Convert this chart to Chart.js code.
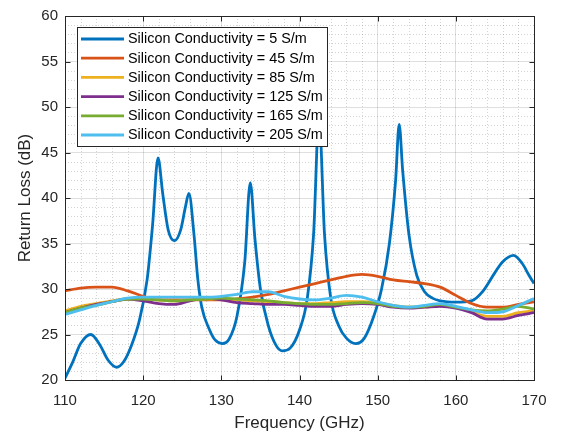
<!DOCTYPE html>
<html>
<head>
<meta charset="utf-8">
<script src="https://cdn.jsdelivr.net/npm/chart.js@4.4.0/dist/chart.umd.min.js"></script>
<style>
  html, body { margin: 0; padding: 0; background: #ffffff; }
  #wrap { width: 561px; height: 434px; }
</style>
</head>
<body>
<div id="wrap"><canvas id="c" width="561" height="434"></canvas></div>
<script>
// ---- data ----
const seriesLabels = [
  'Silicon Conductivity = 5 S/m',
  'Silicon Conductivity = 45 S/m',
  'Silicon Conductivity = 85 S/m',
  'Silicon Conductivity = 125 S/m',
  'Silicon Conductivity = 165 S/m',
  'Silicon Conductivity = 205 S/m'
];
const seriesColors = ['#0072BD', '#D95319', '#EDB120', '#7E2F8E', '#77AC30', '#4DBEEE'];

const freq5 = [110, 111, 112, 113.3, 114.5, 115.5, 116.6, 117.5, 118.5, 119.5, 120.5, 121.2, 121.9, 122.5, 123.2, 124,
  124.8, 125.4, 125.85, 126.5, 127, 127.5, 128.5, 129.2, 130.1, 131, 132, 133, 133.7, 134.3, 135, 136, 137, 137.8,
  138.8, 140, 141, 141.8, 142.5, 143.2, 144, 145, 146, 147.2, 148.3, 149.5, 150.5, 151.5, 152.3, 152.75, 153.2,
  154, 155, 156, 157, 158, 160, 162, 163.5, 165, 166, 167.4, 168.5, 169.3, 170];
const rl5 = [20.2, 22.0, 24.0, 25.0, 23.8, 22.2, 21.4, 22.0, 23.8, 26.5, 31, 37, 44.4, 40.5, 36.5, 35.3,
  36.5, 39.0, 40.5, 36, 31, 28, 25.5, 24.4, 24.0, 24.5, 27, 33, 41.7, 35.5, 30, 26, 23.8, 23.2,
  23.5, 25.5, 29, 36, 49, 36, 29, 26, 24.6, 24.0, 24.6, 27, 30, 35, 42, 48.1, 43,
  36, 31.5, 29.7, 29.0, 28.7, 28.55, 28.7, 29.8, 31.8, 33.0, 33.7, 32.8, 31.6, 30.6];

const freqSmooth = [110, 112, 114, 116, 118, 120, 122, 124, 126, 128, 130, 132, 134, 136, 138, 140,
  142, 144, 146, 148, 150, 152, 154, 156, 158, 160, 162, 164, 166, 168, 170];
const rl45  = [29.8, 30.1, 30.2, 30.2, 29.8, 29.2, 28.8, 28.8, 28.8, 28.8, 28.8, 28.9, 29.1, 29.4, 29.8, 30.2,
  30.6, 31.0, 31.4, 31.6, 31.4, 31.0, 30.8, 30.6, 30.2, 29.3, 28.4, 28.0, 28.0, 28.3, 28.6];
const rl85  = [27.6, 28.1, 28.4, 28.7, 28.9, 28.9, 28.8, 28.7, 28.8, 28.9, 28.9, 28.8, 28.7, 28.6, 28.5, 28.4,
  28.4, 28.5, 28.6, 28.6, 28.5, 28.2, 28.0, 28.0, 28.2, 28.0, 27.5, 27.0, 27.0, 27.4, 27.6];
const rl125 = [27.4, 27.9, 28.3, 28.6, 28.9, 28.7, 28.4, 28.3, 28.7, 29.0, 28.8, 28.5, 28.4, 28.3, 28.3, 28.2,
  28.1, 28.1, 28.3, 28.4, 28.3, 28.0, 27.9, 28.0, 28.1, 27.9, 27.4, 26.7, 26.7, 27.1, 27.4];
const rl165 = [27.4, 27.9, 28.2, 28.6, 28.9, 28.9, 28.8, 28.7, 28.8, 28.9, 29.0, 28.9, 28.8, 28.7, 28.5, 28.4,
  28.3, 28.3, 28.4, 28.5, 28.4, 28.1, 28.0, 28.1, 28.3, 28.0, 27.7, 27.6, 27.8, 28.1, 27.8];
const rl205 = [27.2, 27.7, 28.2, 28.6, 29.0, 29.1, 29.1, 29.1, 29.1, 29.1, 29.2, 29.4, 29.7, 29.7, 29.2, 28.9,
  28.8, 29.0, 29.3, 29.1, 28.6, 28.2, 28.0, 28.2, 28.4, 28.1, 27.7, 27.4, 27.5, 28.2, 28.95];

const xTicks = [110, 120, 130, 140, 150, 160, 170];
const yTicks = [20, 25, 30, 35, 40, 45, 50, 55, 60];

// ---- build datasets ----
function pts(xs, ys) { return xs.map((x, i) => ({ x: x, y: ys[i] })); }
const allData = [pts(freq5, rl5), pts(freqSmooth, rl45), pts(freqSmooth, rl85),
                 pts(freqSmooth, rl125), pts(freqSmooth, rl165), pts(freqSmooth, rl205)];
const datasets = allData.map((d, i) => ({
  label: seriesLabels[i],
  data: d,
  borderColor: seriesColors[i],
  backgroundColor: seriesColors[i],
  borderWidth: 2.8,
  pointRadius: 0,
  fill: false,
  cubicInterpolationMode: 'monotone',
  order: 6 - i
}));

const FONT = "'Liberation Sans', Arial, Helvetica, sans-serif";
const AXIS_COLOR = '#262626';

const matlabPlugin = {
  id: 'matlabLook',
  beforeDatasetsDraw(chart) {
    const { ctx, chartArea: a, scales: { x, y } } = chart;
    ctx.save();
    ctx.strokeStyle = 'rgba(38,38,38,0.2)';
    ctx.lineWidth = 1;
    ctx.setLineDash([1, 2]);
    for (let v = 110; v <= 170; v += 2) {
      if (v % 10 === 0) continue;
      const px = Math.round(x.getPixelForValue(v)) + 0.5;
      ctx.beginPath(); ctx.moveTo(px, a.top); ctx.lineTo(px, a.bottom); ctx.stroke();
    }
    for (let v = 20; v <= 60; v += 1) {
      if (v % 5 === 0) continue;
      const py = Math.round(y.getPixelForValue(v)) + 0.5;
      ctx.beginPath(); ctx.moveTo(a.left, py); ctx.lineTo(a.right, py); ctx.stroke();
    }
    ctx.restore();
  },
  afterDatasetsDraw(chart) {
    const { ctx, chartArea: a, scales: { x, y } } = chart;
    ctx.save();
    ctx.strokeStyle = AXIS_COLOR;
    ctx.lineWidth = 1;
    ctx.setLineDash([]);
    const L = Math.round(a.left) + 0.5, R = Math.round(a.right) + 0.5;
    const T = Math.round(a.top) + 0.5, B = Math.round(a.bottom) + 0.5;
    ctx.strokeRect(L, T, R - L, B - T);
    const tl = 5;
    xTicks.forEach(v => {
      const px = Math.round(x.getPixelForValue(v)) + 0.5;
      ctx.beginPath(); ctx.moveTo(px, B); ctx.lineTo(px, B - tl); ctx.stroke();
      ctx.beginPath(); ctx.moveTo(px, T); ctx.lineTo(px, T + tl); ctx.stroke();
    });
    yTicks.forEach(v => {
      const py = Math.round(y.getPixelForValue(v)) + 0.5;
      ctx.beginPath(); ctx.moveTo(L, py); ctx.lineTo(L + tl, py); ctx.stroke();
      ctx.beginPath(); ctx.moveTo(R, py); ctx.lineTo(R - tl, py); ctx.stroke();
    });
    ctx.restore();
  },
  afterDraw(chart) {
    const { ctx } = chart;
    ctx.save();
    const bx = 77.5, by = 27.5, bw = 250, bh = 119;
    ctx.fillStyle = '#ffffff';
    ctx.fillRect(bx, by, bw, bh);
    ctx.strokeStyle = '#262626';
    ctx.lineWidth = 1;
    ctx.strokeRect(bx, by, bw, bh);
    ctx.font = '14.4px ' + FONT;
    ctx.textBaseline = 'middle';
    const rowH = 19.2;
    chart.data.datasets.forEach((ds, i) => {
      const cy = by + 11.5 + i * rowH;
      ctx.strokeStyle = ds.borderColor;
      ctx.lineWidth = 2.8;
      ctx.beginPath(); ctx.moveTo(81, cy); ctx.lineTo(124, cy); ctx.stroke();
      ctx.fillStyle = '#000000';
      ctx.fillText(ds.label, 128, cy + 0.5);
    });
    ctx.restore();
  }
};

new Chart(document.getElementById('c'), {
  type: 'line',
  data: { datasets: datasets },
  options: {
    responsive: false,
    animation: false,
    devicePixelRatio: 1,
    layout: { padding: { left: 0, right: 27, top: 15, bottom: 0 } },
    plugins: { legend: { display: false }, tooltip: { enabled: false } },
    scales: {
      x: {
        type: 'linear',
        min: 110, max: 170,
        afterBuildTicks: s => { s.ticks = xTicks.map(v => ({ value: v })); },
        afterFit: s => { s.height = 54; },
        border: { display: false },
        grid: { color: 'rgba(38,38,38,0.15)', lineWidth: 1, drawTicks: false },
        ticks: { color: AXIS_COLOR, font: { family: FONT, size: 15 }, padding: 12, maxRotation: 0 },
        title: { display: true, text: 'Frequency (GHz)', color: AXIS_COLOR, font: { family: FONT, size: 17 }, padding: { top: 2, bottom: 0 } }
      },
      y: {
        type: 'linear',
        min: 20, max: 60,
        afterBuildTicks: s => { s.ticks = yTicks.map(v => ({ value: v })); },
        afterFit: s => { s.width = 65; },
        border: { display: false },
        grid: { color: 'rgba(38,38,38,0.15)', lineWidth: 1, drawTicks: false },
        ticks: { color: AXIS_COLOR, font: { family: FONT, size: 15 }, padding: 7 },
        title: { display: true, text: 'Return Loss (dB)', color: AXIS_COLOR, font: { family: FONT, size: 17 }, padding: { top: 15, bottom: 0 } }
      }
    }
  },
  plugins: [matlabPlugin]
});
</script>
</body>
</html>
